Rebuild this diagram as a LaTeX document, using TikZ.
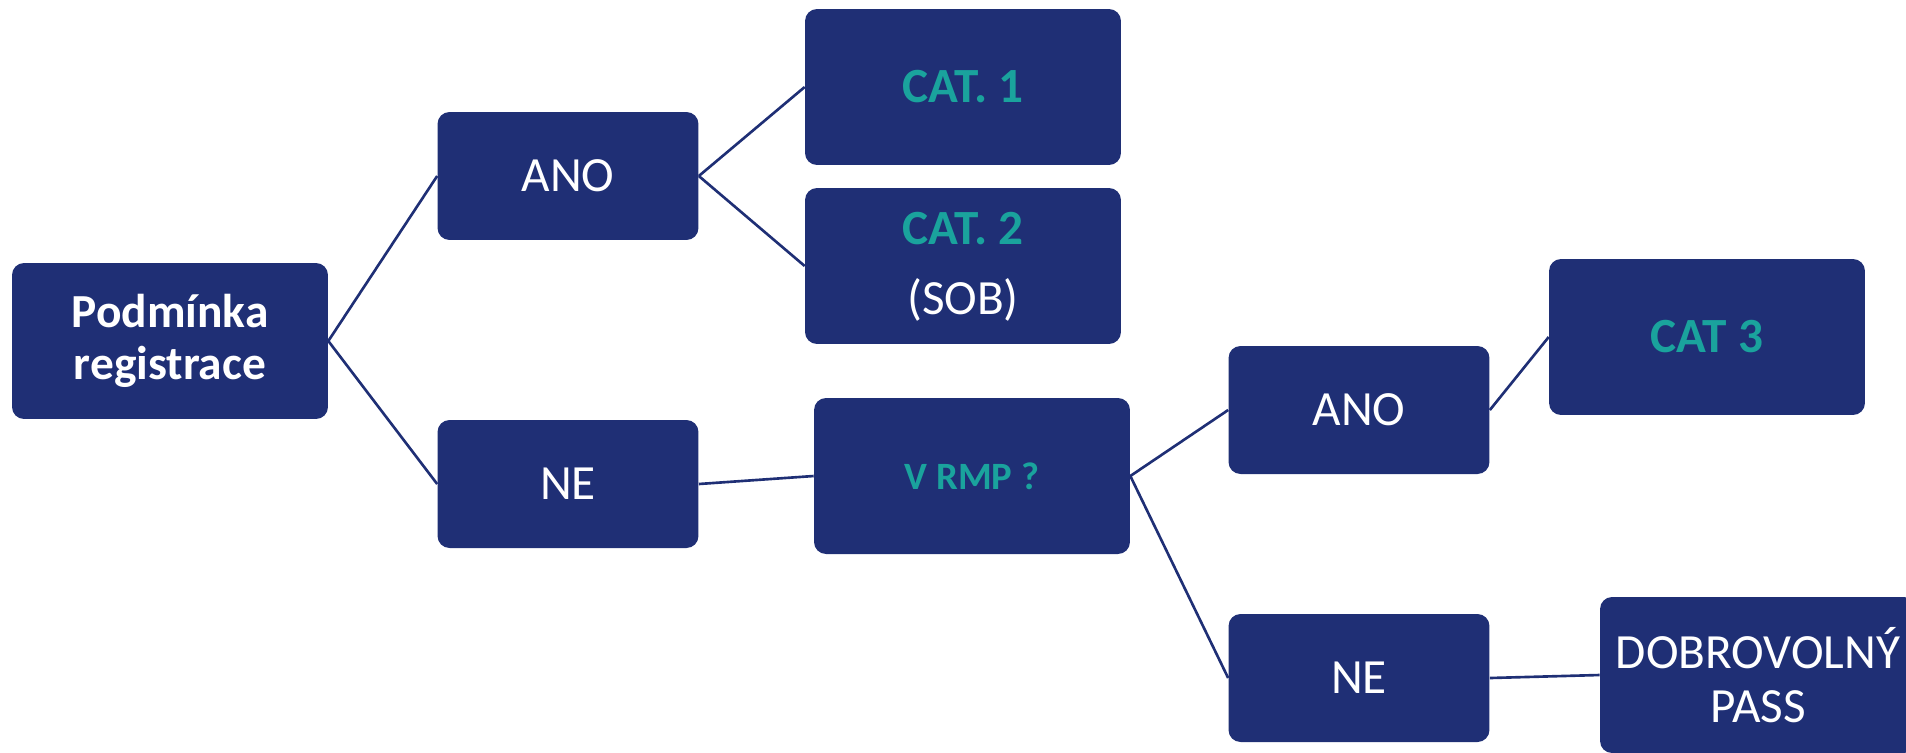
\documentclass[tikz,border=0pt]{standalone}
\usepackage{fontspec}
\setmainfont{Carlito}
\usepackage{tikz}
\usetikzlibrary{positioning}
\definecolor{boxblue}{HTML}{1F2F75}
\definecolor{cattext}{HTML}{1AA39D}

\begin{document}
\begin{tikzpicture}[x=0.02cm, y=-0.02cm,
  box/.style={fill=boxblue, rounded corners=0.24cm, text=white, inner sep=0pt,
    align=center, font=\fontsize{28}{34}\selectfont},
  bigbox/.style={box, minimum width=6.32cm, minimum height=3.12cm},
  smallbox/.style={box, minimum width=5.22cm, minimum height=2.56cm},
  cat/.style={text=cattext, font=\bfseries\fontsize{28}{34}\selectfont},
  link/.style={draw=boxblue, line width=1.5pt}]
\clip (0,0) rectangle (1906,752);
% Root
\node[bigbox, font=\bfseries\fontsize{27}{30}\selectfont] (pod) at (170,341) {Podmínka\\registrace};
% First answers
\node[smallbox] (ano1) at (568,176) {ANO};
\node[smallbox] (ne1) at (568,484) {NE};
% Categories
\node[bigbox, cat] (cat1) at (963,87) {CAT. 1};
\node[bigbox] (cat2) at (963,266) {};
\node[cat] (cat2t) at (963,229) {CAT. 2};
\node[text=white, font=\fontsize{28}{32}\selectfont] (sob) at (963,300) {(SOB)};
\node[bigbox, text=cattext, font=\bfseries\fontsize{22}{26}\selectfont] (rmp) at (972,476) {V RMP ?};
% Second answers
\node[smallbox] (ano2) at (1359,410) {ANO};
\node[smallbox] (ne2) at (1359,678) {NE};
\node[bigbox, cat] (cat3) at (1707,337) {CAT 3};
\node[bigbox, font=\fontsize{28}{31}\selectfont] (pass) at (1758,675) {DOBROVOLNÝ\\PASS};
% Links
\draw[link] (pod.east) -- (ano1.west);
\draw[link] (pod.east) -- (ne1.west);
\draw[link] (ano1.east) -- (cat1.west);
\draw[link] (ano1.east) -- (cat2.west);
\draw[link] (ne1.east) -- (rmp.west);
\draw[link] (rmp.east) -- (ano2.west);
\draw[link] (rmp.east) -- (ne2.west);
\draw[link] (ano2.east) -- (cat3.west);
\draw[link] (ne2.east) -- (pass.west);
\end{tikzpicture}
\end{document}
